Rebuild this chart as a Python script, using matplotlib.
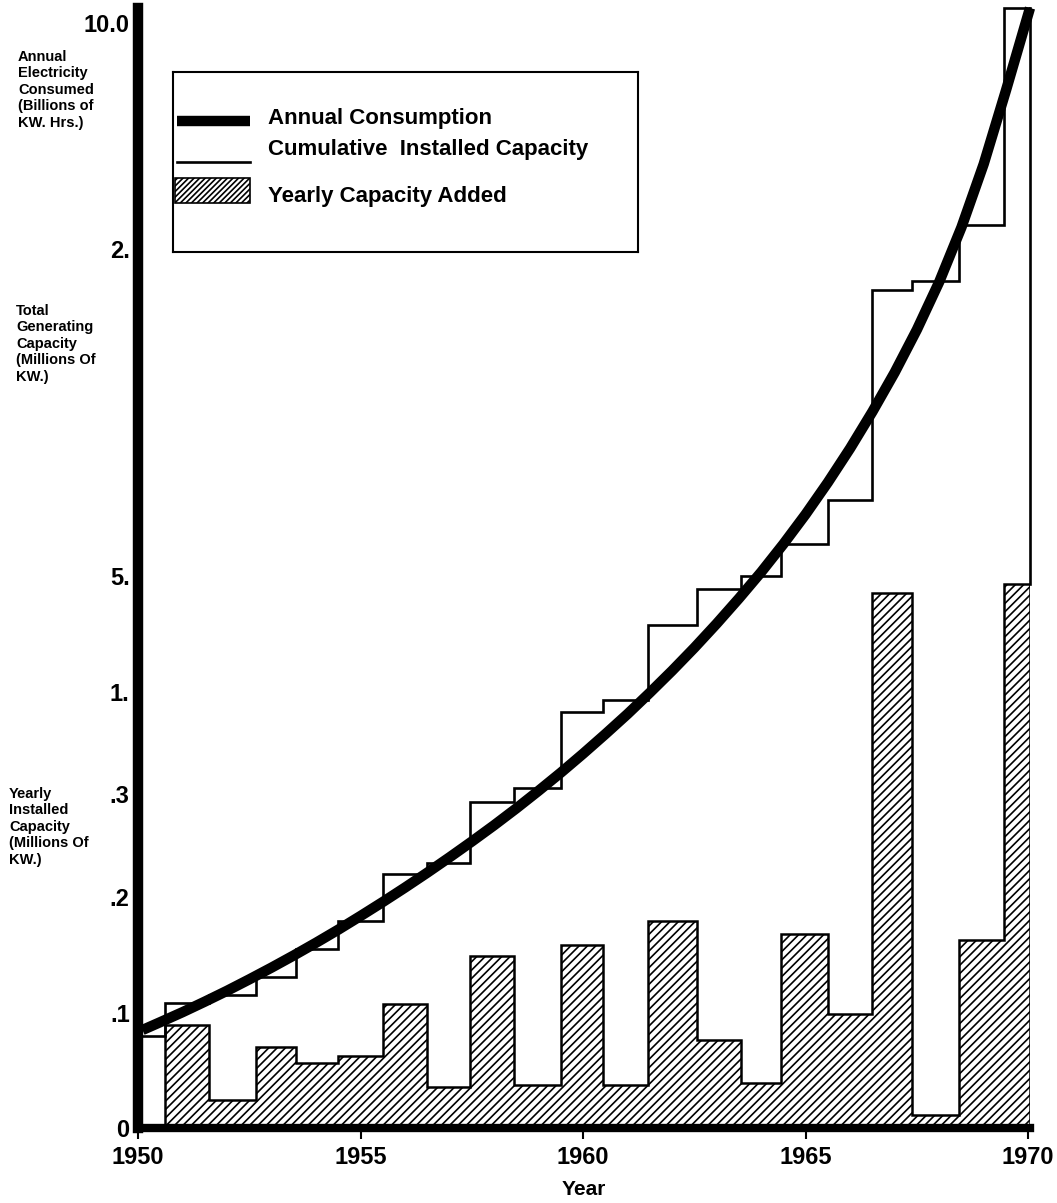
import numpy as np
import matplotlib.pyplot as plt
from matplotlib.patches import Rectangle

plt.rcParams['font.family'] = ['Liberation Sans', 'DejaVu Sans']
plt.rcParams['hatch.linewidth'] = 1.2
plt.rcParams['hatch.color'] = 'black'

# chart units: 0 .. 10 on the (oddly labelled) vertical scale
# yearly capacity added, bar edges (years) and heights
bar_edges = [1950.6, 1951.6, 1952.65, 1953.55, 1954.5, 1955.5, 1956.5, 1957.45,
             1958.45, 1959.5, 1960.45, 1961.45, 1962.55, 1963.55, 1964.45,
             1965.5, 1966.5, 1967.4, 1968.45, 1969.45, 1970.04]
bar_heights = [0.92, 0.25, 0.72, 0.58, 0.64, 1.11, 0.37, 1.54, 0.38, 1.63,
               0.38, 1.85, 0.79, 0.40, 1.73, 1.02, 4.78, 0.12, 1.68, 4.86]

# cumulative installed capacity (step line)
cum_edges = [1950.0] + bar_edges
cum_values = [0.82, 1.12, 1.19, 1.35, 1.60, 1.85, 2.27, 2.37, 2.91, 3.04, 3.71,
              3.82, 4.49, 4.81, 4.93, 5.21, 5.61, 7.48, 7.56, 8.06, 10.0]

# annual consumption (smooth curve), read every half year
cons_years = [1950.1, 1950.5, 1951.0, 1951.5, 1952.0, 1952.5, 1953.0, 1953.5,
              1954.0, 1954.5, 1955.0, 1955.5, 1956.0, 1956.5, 1957.0, 1957.5,
              1958.0, 1958.5, 1959.0, 1959.5, 1960.0, 1960.5, 1961.0, 1961.5,
              1962.0, 1962.5, 1963.0, 1963.5, 1964.0, 1964.5, 1965.0, 1965.5,
              1966.0, 1966.5, 1967.0, 1967.5, 1968.0, 1968.5, 1969.0, 1969.5,
              1970.04]
cons_values = [0.875, 0.945, 1.034, 1.128, 1.225, 1.327, 1.432, 1.541,
               1.654, 1.771, 1.893, 2.018, 2.147, 2.280, 2.417, 2.558,
               2.703, 2.854, 3.011, 3.173, 3.342, 3.517, 3.697, 3.887,
               4.083, 4.288, 4.503, 4.728, 4.963, 5.214, 5.480, 5.765,
               6.069, 6.396, 6.746, 7.129, 7.554, 8.042, 8.607, 9.264,
               10.0]

ytick_pos = [0, 1.03, 2.06, 2.98, 3.89, 4.93, 7.85, 9.87]
ytick_labels = ['0', '.1', '.2', '.3', '1.', '5.', '2.', '10.0']
xticks = [1950, 1955, 1960, 1965, 1970]

W, H = 1057, 1203
fig = plt.figure(figsize=(W / 100, H / 100), dpi=100)
ax = fig.add_axes([138 / W, (H - 1128) / H, (1030 - 138) / W, (1128 - 8) / H])

ax.stairs(bar_heights, bar_edges, baseline=0, fill=True, facecolor='white',
          edgecolor='black', hatch='////', linewidth=1.8, zorder=1)
ax.stairs(cum_values, cum_edges, baseline=None, color='black', linewidth=1.9,
          zorder=2, clip_on=False)
ax.plot([cum_edges[-1], cum_edges[-1]], [cum_values[-1], bar_heights[-1]],
        color='black', linewidth=1.9, zorder=2, clip_on=False)
ax.plot(cons_years, cons_values, color='black', linewidth=7.5,
        solid_capstyle='butt', solid_joinstyle='round', zorder=3, clip_on=False)

ax.set_xlim(1950, 1970.04)
ax.set_ylim(0, 10)
for s in ['top', 'right']:
    ax.spines[s].set_visible(False)
ax.spines['left'].set_linewidth(7.5)
ax.spines['bottom'].set_linewidth(6)
ax.spines['left'].set_zorder(5)
ax.spines['bottom'].set_zorder(5)

ax.set_xticks(xticks)
ax.set_xticklabels([str(x) for x in xticks], fontsize=17, fontweight='bold')
ax.tick_params(axis='x', direction='out', length=8, width=1.5, pad=5)
ax.set_yticks(ytick_pos)
ax.set_yticklabels(ytick_labels, fontsize=17, fontweight='bold')
ax.tick_params(axis='y', length=0, pad=6)
ax.set_xlabel('Year', fontsize=15, fontweight='bold', labelpad=8)

# side labels
side = [(18, 50, 'Annual\nElectricity\nConsumed\n(Billions of\nKW. Hrs.)'),
        (16, 304, 'Total\nGenerating\nCapacity\n(Millions Of\nKW.)'),
        (9, 787, 'Yearly\nInstalled\nCapacity\n(Millions Of\nKW.)')]
for px, py, txt in side:
    fig.text(px / W, 1 - py / H, txt, fontsize=10.5, fontweight='bold',
             ha='left', va='top', linespacing=1.22)

# legend box
lg = fig.add_axes([173 / W, (H - 252) / H, 465 / W, 180 / H])
lg.set_xlim(0, 1)
lg.set_ylim(0, 1)
lg.set_xticks([])
lg.set_yticks([])
for s in lg.spines.values():
    s.set_linewidth(1.5)
lg.plot([0.009, 0.166], [0.728, 0.728], color='black', linewidth=7.5, solid_capstyle='butt')
lg.plot([0.009, 0.166], [0.50, 0.50], color='black', linewidth=1.9)
lg.add_patch(Rectangle((0.004, 0.272), 0.162, 0.139, facecolor='white',
                       edgecolor='black', hatch='//////', linewidth=1.2))
lg.text(0.204, 0.739, 'Annual Consumption', fontsize=16, fontweight='bold', va='center')
lg.text(0.204, 0.572, 'Cumulative  Installed Capacity', fontsize=16, fontweight='bold', va='center')
lg.text(0.204, 0.306, 'Yearly Capacity Added', fontsize=16, fontweight='bold', va='center')

fig.savefig('out.png', dpi=100)
